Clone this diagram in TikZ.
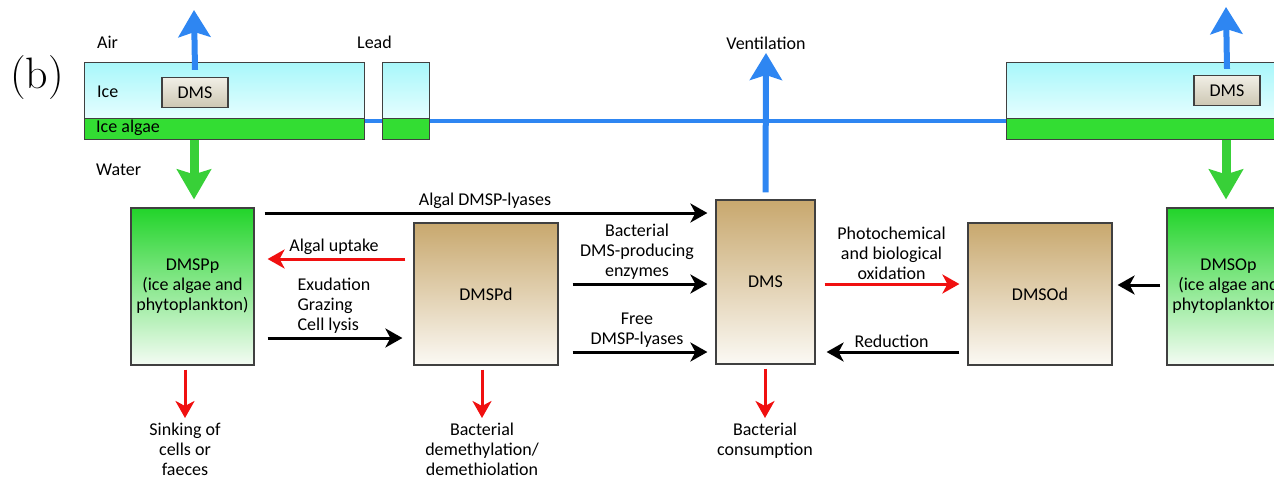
\documentclass[tikz,border=0pt]{standalone}
\usepackage{fontspec}
\newfontfamily\diagfont{Carlito}
\usetikzlibrary{positioning,arrows.meta,calc}

\definecolor{icetop}{HTML}{A8F7FA}
\definecolor{icebot}{HTML}{E6FEFF}
\definecolor{algaeband}{HTML}{33DD33}
\definecolor{algtop}{HTML}{22D42A}
\definecolor{algbot}{HTML}{F4FCF4}
\definecolor{tantop}{HTML}{C8A86E}
\definecolor{tanbot}{HTML}{FBF9F4}
\definecolor{gastop}{HTML}{F1EFE6}
\definecolor{gasbot}{HTML}{CDC7B3}
\definecolor{ventblue}{HTML}{2E86F2}
\definecolor{sinkgreen}{HTML}{38D038}
\definecolor{lossred}{HTML}{F01010}

\begin{document}
\begin{tikzpicture}[x=1pt,y=-1pt,
  every node/.style={font=\diagfont\fontsize{18}{20}\selectfont},
  box/.style={rectangle,draw=black!75,line width=1.2pt,align=center,inner sep=0pt},
  pool/.style={box,top color=tantop,bottom color=tanbot},
  algal/.style={box,top color=algtop,bottom color=algbot},
  icebox/.style={box,anchor=north west,top color=icetop,bottom color=icebot,minimum height=56pt},
  algaebox/.style={box,anchor=north west,fill=algaeband,minimum height=21pt},
  gasbox/.style={box,top color=gastop,bottom color=gasbot,minimum width=66pt,minimum height=30pt},
  tag/.style={anchor=west,inner sep=0pt},
  lbl/.style={align=center,anchor=north,inner sep=0pt},
  flow/.style={line width=3pt,-{Stealth[length=17pt,width=19pt,inset=5pt]}},
  loss/.style={flow,draw=lossred},
  gas/.style={line width=6pt,draw=ventblue,-{Stealth[length=27pt,width=32pt,inset=5pt]}},
  sink/.style={line width=9pt,draw=sinkgreen,-{Stealth[length=30pt,width=34pt,inset=5pt]}}
]
  \useasboundingbox (0,0) rectangle (1274,479);
  \clip (0,0) rectangle (1274,479);

  \node[font=\fontsize{44}{48}\selectfont] (panel) at (37,78) {(b)};

  \node[icebox,minimum width=280pt] (icel) at (84,62) {};
  \node[algaebox,minimum width=280pt] (algl) at (84,118) {};
  \node[icebox,minimum width=47pt] (icen) at (382,62) {};
  \node[algaebox,minimum width=47pt] (algn) at (382,118) {};
  \node[icebox,minimum width=290pt] (icer) at (1006,62) {};
  \node[algaebox,minimum width=290pt] (algr) at (1006,118) {};
  \node[gasbox] (dmsl) at (195,92.5) {DMS};
  \node[gasbox] (dmsr) at (1227,90.5) {DMS};

  \node[tag] (air) at (97,42) {Air};
  \node[tag] (lead) at (357,42) {Lead};
  \node[tag] (ice) at (97,92) {Ice};
  \node[tag] (icealg) at (96,128) {Ice algae};
  \node[tag] (water) at (96,170) {Water};

  \draw[line width=4pt,ventblue] ($(algl.north east)+(0,2.5)$) -- ($(algn.north west)+(0,2.5)$);
  \draw[line width=4pt,ventblue] ($(algn.north east)+(0,2.5)$) -- ($(algr.north west)+(0,2.5)$);

  \node[algal,minimum width=123pt,minimum height=157pt] (dmspp) at (192.5,286.5) {DMSPp\\(ice algae and\\phytoplankton)};
  \node[pool,minimum width=144pt,minimum height=142pt] (dmspd) at (486,294) {DMSPd};
  \node[pool,minimum width=99pt,minimum height=164pt] (dms) at (765.5,282) {DMS};
  \node[pool,minimum width=144pt,minimum height=142pt] (dmsod) at (1040,294) {DMSOd};
  \node[algal,minimum width=123pt,minimum height=157pt] (dmsop) at (1228.5,286.5) {DMSOp\\(ice algae and\\phytoplankton)};

  \coordinate (airl) at (194,10);
  \coordinate (airr) at (1226,7);
  \coordinate (vent) at (766,53);
  \draw[gas] ($(dmsl.north)+(0,-7)$) -- (airl);
  \draw[gas] ($(dmsr.north)+(0,-6)$) -- (airr);
  \draw[gas] ($(dms.north)+(0,-7)$) -- (vent);
  \node[anchor=south] (ventlbl) at (vent) {Ventilation};
  \draw[sink,shorten >=8pt] (airl |- algl.south) -- (airl |- dmspp.north);
  \draw[sink,shorten >=8pt] (airr |- algr.south) -- (airr |- dmsop.north);

  \draw[flow,shorten <=10pt,shorten >=8pt] (dmspp.east |- 0,213) -- node[above] {Algal DMSP-lyases} (dms.west |- 0,213);
  \draw[loss,shorten <=8pt,shorten >=13pt] (dmspd.west |- 0,259) -- node[above] {Algal uptake} (dmspp.east |- 0,259);
  \draw[flow,shorten <=13pt,shorten >=11pt] (dmspp.east |- 0,338) -- node[above,align=left] {Exudation\\Grazing\\Cell lysis} (dmspd.west |- 0,338);
  \draw[flow,shorten <=14pt,shorten >=8pt] (dmspd.east |- 0,284) -- node[above,align=center] {Bacterial\\DMS-producing\\enzymes} (dms.west |- 0,284);
  \draw[flow,shorten <=14pt,shorten >=8pt] (dmspd.east |- 0,352) -- node[above,align=center] {Free\\DMSP-lyases} (dms.west |- 0,352);
  \draw[loss,shorten <=9pt,shorten >=8pt] (dms.east |- 0,284) -- node[above,align=center] {Photochemical\\and biological\\oxidation} (dmsod.west |- 0,284);
  \draw[flow,shorten <=8pt,shorten >=11pt] (dmsod.west |- 0,352) -- node[above] {Reduction} (dms.east |- 0,352);
  \draw[flow,shorten <=6pt,shorten >=5pt] (dmsop.west |- 0,285) -- (dmsod.east |- 0,285);

  \node[lbl] (sinking) at (185,423) {Sinking of\\cells or\\faeces};
  \node[lbl] (demeth) at (482,423) {Bacterial\\demethylation/\\demethiolation};
  \node[lbl] (consum) at (765,423) {Bacterial\\consumption};
  \draw[loss,shorten <=4pt,shorten >=5pt] (sinking.north |- dmspp.south) -- (sinking.north);
  \draw[loss,shorten <=4pt,shorten >=5pt] (demeth.north |- dmspd.south) -- (demeth.north);
  \draw[loss,shorten <=4pt,shorten >=5pt] (consum.north |- dms.south) -- (consum.north);
\end{tikzpicture}
\end{document}
